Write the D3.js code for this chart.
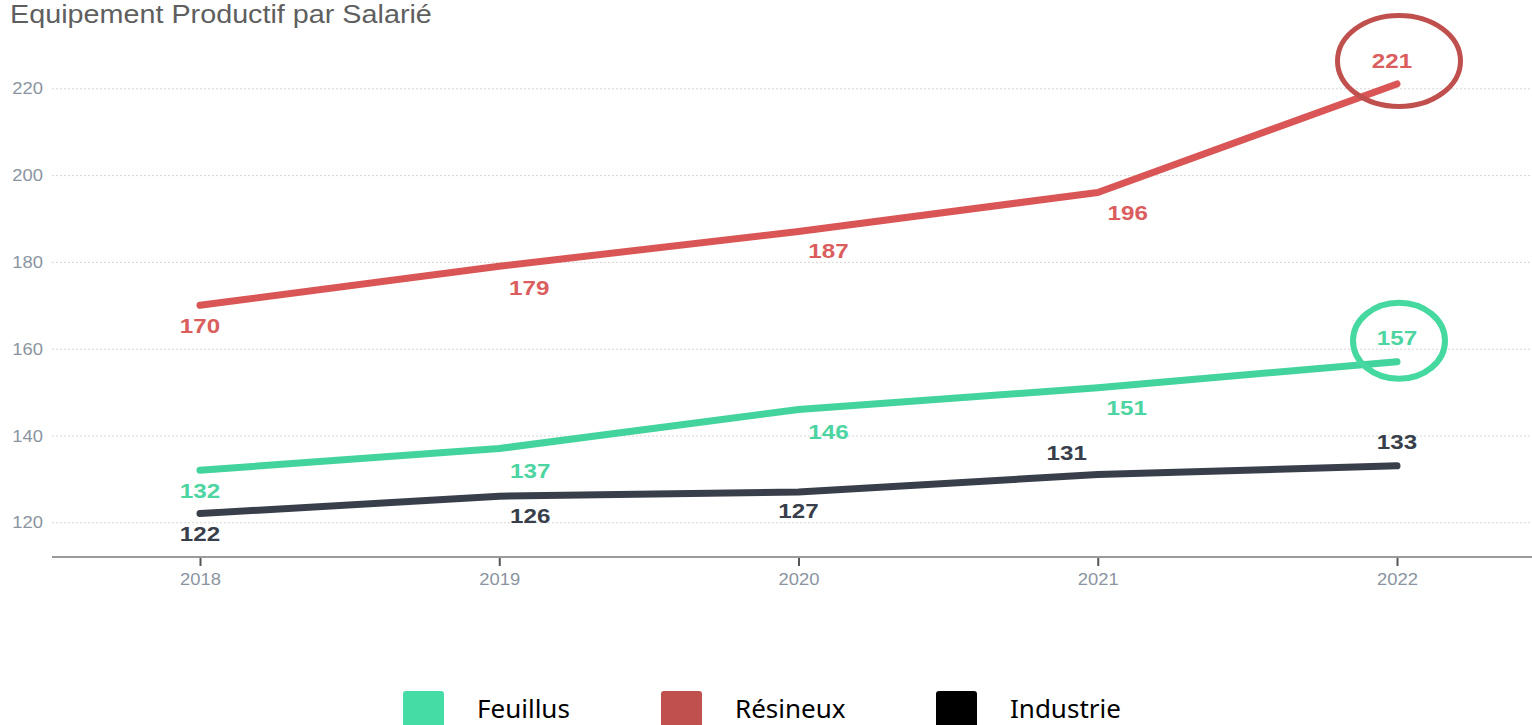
<!DOCTYPE html>
<html>
<head>
<meta charset="utf-8">
<script src="https://cdn.jsdelivr.net/npm/d3@7"></script>
<style>
  body { margin: 0; background: #fff; }
  svg { display: block; }
</style>
</head>
<body>
<svg id="chart" width="1532" height="725"></svg>
<script>
// data
const years = [2018, 2019, 2020, 2021, 2022];
const feuillus = [132, 137, 146, 151, 157];
const resineux = [170, 179, 187, 196, 221];
const industrie = [122, 126, 127, 131, 133];
const yTicks = [120, 140, 160, 180, 200, 220];
const seriesNames = ["Feuillus", "Résineux", "Industrie"];
const title = "Equipement Productif par Salarié";

// label placement per point [dx, dy] (layout only)
const labelOffsets = {
  "Feuillus": [[0, 28], [31, 29], [30, 29.5], [29, 27], [0, -16.5]],
  "Résineux": [[0, 28], [30, 29], [30, 26.5], [30, 27.5], [-5, -16]],
  "Industrie": [[0, 27], [31, 27], [0, 26], [-31, -15], [0, -17]]
};

const lineColors = { "Feuillus": "#43d39d", "Résineux": "#da5656", "Industrie": "#383f4b" };
const legendColors = ["#45dca5", "#c0504d", "#000000"];
const stretch = 1.15; // original picture was widened horizontally

const series = [
  { name: "Feuillus", values: feuillus },
  { name: "Résineux", values: resineux },
  { name: "Industrie", values: industrie }
];

const svg = d3.select("#chart");
const left = 52, right = 1532, bottom = 557;

const x = d3.scaleLinear().domain([2018, 2022]).range([200, 1397]);
const y = d3.scaleLinear().domain([112, 220]).range([bottom, 88.3]);

// title
svg.append("text")
  .attr("transform", `translate(10,23) scale(${stretch},1)`)
  .attr("font-family", "Liberation Sans, Arial, sans-serif")
  .attr("font-size", 25)
  .attr("fill", "#5f5f5f")
  .text(title);

// y axis + dotted grid
const yAxis = svg.append("g")
  .attr("transform", `translate(${left},0)`)
  .call(d3.axisLeft(y).tickValues(yTicks).tickSize(-(right - left)).tickPadding(0));
yAxis.select(".domain").remove();
yAxis.selectAll(".tick line")
  .attr("stroke", "#d6d6d6")
  .attr("stroke-dasharray", "2,2");
yAxis.selectAll(".tick text")
  .attr("x", -9 / stretch)
  .attr("dy", "0.35em")
  .attr("transform", `scale(${stretch},1)`)
  .attr("font-family", "Liberation Sans, Arial, sans-serif")
  .attr("font-size", 16)
  .attr("fill", "#8b95a1");

// x axis
const xAxis = svg.append("g")
  .attr("transform", `translate(0,${bottom})`)
  .call(d3.axisBottom(x).tickValues(years).tickFormat(d3.format("d")).tickSize(9).tickPadding(8));
xAxis.select(".domain").remove();
xAxis.append("line")
  .attr("x1", left).attr("x2", right)
  .attr("stroke", "#9a9a9a").attr("stroke-width", 2);
xAxis.selectAll(".tick line").attr("stroke", "#555").attr("stroke-width", 2);
xAxis.selectAll(".tick text")
  .attr("transform", `scale(${stretch},1)`)
  .attr("font-family", "Liberation Sans, Arial, sans-serif")
  .attr("font-size", 16)
  .attr("fill", "#8b95a1");

// lines
const line = d3.line()
  .x((d, i) => x(years[i]))
  .y(d => y(d));

svg.append("g").selectAll("path")
  .data(series)
  .join("path")
  .attr("d", d => line(d.values))
  .attr("fill", "none")
  .attr("stroke", d => lineColors[d.name])
  .attr("stroke-width", 7)
  .attr("stroke-linecap", "round")
  .attr("stroke-linejoin", "round");

// value labels
series.forEach(s => {
  svg.append("g").selectAll("text")
    .data(s.values)
    .join("text")
    .attr("transform", (d, i) => {
      const o = labelOffsets[s.name][i];
      return `translate(${x(years[i]) + o[0]},${y(d) + o[1]}) scale(${stretch},1)`;
    })
    .attr("text-anchor", "middle")
    .attr("font-family", "Liberation Sans, Arial, sans-serif")
    .attr("font-weight", "bold")
    .attr("font-size", 21)
    .attr("fill", lineColors[s.name])
    .attr("opacity", s.name === "Industrie" ? 1 : 0.95)
    .text(d => d);
});

// highlight circles around last values
const last = years.length - 1;
svg.append("ellipse")
  .attr("cx", x(years[last]) + 2)
  .attr("cy", y(resineux[last]) - 23)
  .attr("rx", 61.5).attr("ry", 45.5)
  .attr("fill", "none").attr("stroke", "#c0504d").attr("stroke-width", 5);
svg.append("ellipse")
  .attr("cx", x(years[last]) + 2)
  .attr("cy", y(feuillus[last]) - 21)
  .attr("rx", 46).attr("ry", 38)
  .attr("fill", "none").attr("stroke", "#45d9a0").attr("stroke-width", 6);

// legend
const legendX = [403, 661, 936];
const legend = svg.append("g").selectAll("g")
  .data(seriesNames)
  .join("g")
  .attr("transform", (d, i) => `translate(${legendX[i]},691)`);
legend.append("rect")
  .attr("width", 41).attr("height", 41).attr("rx", 3)
  .attr("fill", (d, i) => legendColors[i]);
legend.append("text")
  .attr("x", 74).attr("y", 27)
  .attr("font-family", "Noto Sans, sans-serif")
  .attr("font-size", 26)
  .attr("fill", "#000")
  .text(d => d);
</script>
</body>
</html>
